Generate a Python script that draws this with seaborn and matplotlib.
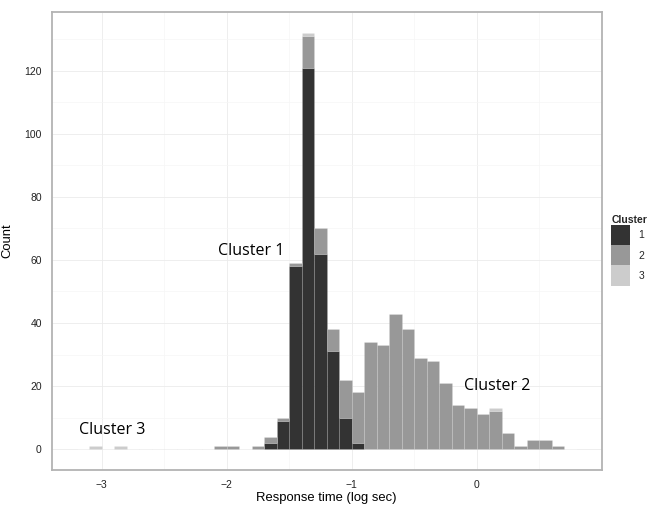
import numpy as np
import pandas as pd
import matplotlib
matplotlib.use("Agg")
import matplotlib.pyplot as plt
import seaborn as sns
from matplotlib.patches import Patch
from matplotlib.ticker import MultipleLocator

# bin left edges (log sec) and counts per cluster
c1_bins = [-1.7, -1.6, -1.5, -1.4, -1.3, -1.2, -1.1, -1.0]
c1_counts = [2, 9, 58, 121, 62, 31, 10, 2]

c2_bins = [-2.1, -2.0, -1.8, -1.7, -1.6, -1.5, -1.4, -1.3, -1.2, -1.1, -1.0,
           -0.9, -0.8, -0.7, -0.6, -0.5, -0.4, -0.3, -0.2, -0.1, 0.0, 0.1,
           0.2, 0.3, 0.4, 0.5, 0.6]
c2_counts = [1, 1, 1, 2, 1, 1, 10, 8, 7, 12, 16,
             34, 33, 43, 38, 29, 28, 21, 14, 13, 11, 12,
             5, 1, 3, 3, 1]

c3_bins = [-3.1, -2.9, -1.4, 0.1]
c3_counts = [1, 1, 1, 1]

cluster_labels = ["1", "2", "3"]
cluster_colors = ["#333333", "#989898", "#cccccc"]

frames = []
for lab, b, c in zip(cluster_labels, [c1_bins, c2_bins, c3_bins],
                     [c1_counts, c2_counts, c3_counts]):
    frames.append(pd.DataFrame({"time": np.round(np.array(b) + 0.05, 3),
                                "count": c, "Cluster": lab}))
df = pd.concat(frames, ignore_index=True)

sns.set_style("white")
plt.rcParams["font.family"] = ["Liberation Sans", "DejaVu Sans"]

fig = plt.figure(figsize=(6.64, 5.13), dpi=100)
ax = fig.add_axes([51.5 / 664, 1 - 470 / 513, (602 - 51.5) / 664, (470 - 12) / 513])

palette = dict(zip(cluster_labels, cluster_colors))
# seaborn stacks the last hue level at the bottom, so reverse the order
sns.histplot(data=df, x="time", weights="count", hue="Cluster",
             hue_order=cluster_labels[::-1], palette=palette,
             multiple="stack", binwidth=0.1, binrange=(-3.2, 0.8),
             alpha=1, edgecolor=(1, 1, 1, 0.12), linewidth=0.6,
             legend=False, ax=ax, zorder=3)

ax.set_xlim(-3.4, 1.0)
ax.set_ylim(-6.6, 138.6)
ax.xaxis.set_major_locator(MultipleLocator(1))
ax.xaxis.set_minor_locator(MultipleLocator(0.5))
ax.yaxis.set_major_locator(MultipleLocator(20))
ax.yaxis.set_minor_locator(MultipleLocator(10))
ax.grid(which="major", color="#ebebeb", lw=0.6, zorder=0)
ax.grid(which="minor", color="#f6f6f6", lw=0.5, zorder=0)
ax.set_axisbelow(True)
for s in ax.spines.values():
    s.set_color("#b3b3b3")
    s.set_linewidth(1.3)
ax.tick_params(which="major", direction="out", length=4, width=0.6,
               color="#7f7f7f", labelsize=7.5, labelcolor="#222222", pad=3)
ax.tick_params(which="minor", length=0)
ax.set_xticks([-3, -2, -1, 0])
ax.set_xticklabels(["\u22123", "\u22122", "\u22121", "0"])
ax.set_xlabel("Response time (log sec)", fontsize=9.4, labelpad=2, color="black")
ax.set_ylabel("Count", fontsize=9.4, labelpad=8, color="black")

ann_font = ["Open Sans", "DejaVu Sans"]
ax.text(-2.07, 62.7, "Cluster 1", fontsize=11.5, family=ann_font,
        va="center", color="black", zorder=5)
ax.text(-0.10, 20, "Cluster 2", fontsize=11.5, family=ann_font,
        va="center", color="black", zorder=5)
ax.text(-3.18, 6, "Cluster 3", fontsize=11.5, family=ann_font,
        va="center", color="black", zorder=5)

handles = [Patch(facecolor=c, edgecolor="none") for c in cluster_colors]
leg = fig.legend(handles, cluster_labels, title="Cluster", loc="upper left",
                 bbox_to_anchor=(608 / 664, 1 - 212 / 513), frameon=False,
                 fontsize=7.5, title_fontsize=7.5, handlelength=1.8,
                 handleheight=2.6, labelspacing=0, handletextpad=0.8,
                 borderaxespad=0, borderpad=0.3)
leg.get_title().set_fontweight("bold")
leg._legend_box.align = "left"

fig.savefig("out.png", dpi=100)
